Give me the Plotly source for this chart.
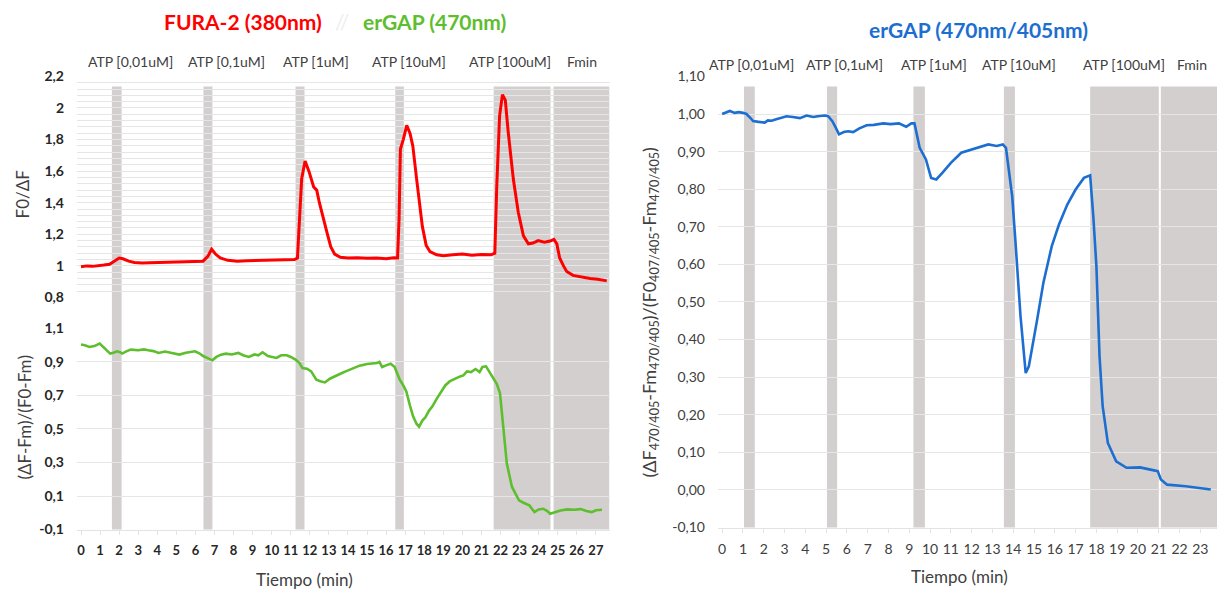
import plotly.graph_objects as go

# ---------------- data ----------------
red_t = [0.0, 0.3, 0.6, 0.9, 1.2, 1.5, 1.75, 2.0, 2.2, 2.5, 2.8, 3.2, 3.6, 4.0, 4.5, 5.0, 5.5, 6.0, 6.4,
         6.65, 6.85, 7.05, 7.3, 7.7, 8.2, 8.7, 9.2, 9.7, 10.2, 10.7, 11.2, 11.35, 11.45, 11.57, 11.75, 11.95,
         12.2, 12.36, 12.5, 12.7, 12.9, 13.1, 13.3, 13.6, 14.0, 14.5, 15.0, 15.5, 16.0, 16.4, 16.6, 16.68,
         16.75, 16.9, 17.08, 17.25, 17.4, 17.6, 17.9, 18.1, 18.3, 18.65, 19.0, 19.5, 20.0, 20.5, 21.0, 21.5,
         21.7, 21.8, 21.95, 22.1, 22.25, 22.4, 22.67, 22.93, 23.2, 23.46, 23.7, 23.97, 24.3, 24.6, 24.8,
         24.95, 25.1, 25.3, 25.47, 25.8, 26.2, 26.7, 27.1, 27.57]
red_v = [0.995, 1.0, 0.997, 1.003, 1.005, 1.01, 1.03, 1.05, 1.045, 1.03, 1.022, 1.018, 1.02, 1.022, 1.025,
         1.023, 1.026, 1.03, 1.03, 1.06, 1.105, 1.075, 1.05, 1.035, 1.03, 1.033, 1.035, 1.033, 1.037, 1.04,
         1.04, 1.05, 1.3, 1.55, 1.664, 1.6, 1.50, 1.48, 1.40, 1.30, 1.21, 1.12, 1.075, 1.055, 1.05, 1.052,
         1.048, 1.05, 1.046, 1.052, 1.05, 1.3, 1.74, 1.80, 1.89, 1.84, 1.76, 1.55, 1.25, 1.13, 1.09, 1.07,
         1.065, 1.07, 1.075, 1.068, 1.072, 1.07, 1.08, 1.5, 1.95, 2.085, 2.05, 1.85, 1.55, 1.34, 1.19, 1.14,
         1.145, 1.16, 1.15, 1.157, 1.168, 1.14, 1.05, 1.0, 0.965, 0.94, 0.93, 0.92, 0.915, 0.905]

green_t = [0.0, 0.2, 0.44, 0.7, 0.98, 1.2, 1.53, 1.7, 1.89, 2.05, 2.16, 2.4, 2.62, 3.0, 3.3, 3.53, 3.8,
           4.07, 4.4, 4.7, 5.16, 5.5, 5.75, 5.98, 6.2, 6.43, 6.7, 6.89, 7.1, 7.34, 7.6, 7.9, 8.25, 8.5, 8.8,
           9.1, 9.3, 9.52, 9.8, 10.05, 10.25, 10.5, 10.79, 11.0, 11.25, 11.45, 11.61, 11.85, 12.07, 12.2,
           12.34, 12.55, 12.79, 13.05, 13.34, 13.6, 13.88, 14.2, 14.61, 15.0, 15.3, 15.52, 15.65, 15.79,
           16.0, 16.24, 16.45, 16.7, 16.9, 17.06, 17.25, 17.42, 17.6, 17.73, 17.9, 18.06, 18.25, 18.42,
           18.65, 18.88, 19.1, 19.33, 19.6, 19.88, 20.05, 20.24, 20.45, 20.69, 20.9, 21.05, 21.24, 21.4,
           21.6, 21.8, 21.97, 22.15, 22.33, 22.6, 22.97, 23.2, 23.51, 23.78, 24.0, 24.24, 24.45, 24.6,
           24.85, 25.14, 25.5, 25.87, 26.2, 26.5, 26.78, 27.0, 27.32]
green_v = [1.004, 1.0, 0.99, 0.995, 1.01, 0.985, 0.95, 0.955, 0.964, 0.958, 0.95, 0.965, 0.974, 0.97,
           0.975, 0.97, 0.965, 0.954, 0.962, 0.955, 0.944, 0.955, 0.96, 0.964, 0.952, 0.934, 0.92, 0.91,
           0.93, 0.944, 0.95, 0.945, 0.954, 0.94, 0.93, 0.945, 0.94, 0.958, 0.935, 0.928, 0.924, 0.94, 0.94,
           0.93, 0.914, 0.895, 0.864, 0.86, 0.844, 0.82, 0.794, 0.785, 0.778, 0.8, 0.818, 0.83, 0.844, 0.86,
           0.878, 0.888, 0.89, 0.894, 0.9, 0.87, 0.88, 0.89, 0.87, 0.798, 0.76, 0.724, 0.64, 0.574, 0.53,
           0.514, 0.55, 0.57, 0.61, 0.634, 0.68, 0.724, 0.76, 0.784, 0.8, 0.814, 0.82, 0.844, 0.84, 0.858,
           0.84, 0.87, 0.874, 0.845, 0.814, 0.77, 0.714, 0.494, 0.294, 0.154, 0.074, 0.06, 0.044, 0.004,
           0.02, 0.024, 0.01, -0.006, 0.005, 0.014, 0.02, 0.018, 0.022, 0.01, 0.004, 0.015, 0.018]

blue_t = [0.0, 0.2, 0.37, 0.6, 0.8, 1.0, 1.17, 1.35, 1.49, 1.75, 2.05, 2.2, 2.38, 2.6, 2.8, 3.1, 3.4,
          3.74, 4.06, 4.38, 4.6, 4.94, 5.1, 5.3, 5.45, 5.62, 5.85, 6.06, 6.3, 6.6, 6.95, 7.3, 7.75, 8.1,
          8.5, 8.85, 9.1, 9.25, 9.5, 9.8, 10.05, 10.3, 10.6, 11.0, 11.5, 12.0, 12.4, 12.8, 13.2, 13.5,
          13.65, 13.95, 14.1, 14.35, 14.6, 14.75, 15.15, 15.45, 15.85, 16.2, 16.6, 17.0, 17.4, 17.7, 17.85,
          18.0, 18.15, 18.3, 18.55, 18.95, 19.45, 20.1, 20.6, 20.95, 21.1, 21.4, 22.3, 22.9, 23.5]
blue_v = [1.000, 1.004, 1.008, 1.003, 1.005, 1.003, 1.0, 0.99, 0.981, 0.979, 0.977, 0.983, 0.982, 0.986,
          0.990, 0.994, 0.992, 0.989, 0.996, 0.992, 0.994, 0.996, 0.994, 0.981, 0.965, 0.946, 0.952, 0.954,
          0.952, 0.962, 0.970, 0.971, 0.975, 0.973, 0.975, 0.966, 0.975, 0.975, 0.910, 0.879, 0.830, 0.826,
          0.844, 0.870, 0.897, 0.905, 0.912, 0.919, 0.915, 0.919, 0.910, 0.781, 0.666, 0.462, 0.311, 0.329,
          0.453, 0.551, 0.648, 0.706, 0.759, 0.799, 0.830, 0.837, 0.728, 0.595, 0.356, 0.223, 0.125, 0.076,
          0.059, 0.060, 0.054, 0.050, 0.028, 0.014, 0.010, 0.006, 0.001]

stim_labels = ["ATP [0,01uM]", "ATP [0,1uM]", "ATP [1uM]", "ATP [10uM]", "ATP [100uM]", "Fmin"]
left_label_t = [2.57, 7.63, 12.34, 17.19, 22.47, 26.27]
right_label_t = [1.43, 5.9, 10.18, 14.29, 19.35, 22.58]

left_bars = [(1.62, 2.13), (6.42, 6.89), (11.25, 11.72), (16.48, 16.93), (21.64, 24.62), (24.78, 27.7)]
right_bars = [(1.05, 1.57), (5.04, 5.53), (9.2, 9.75), (13.55, 14.08), (17.7, 21.0), (21.1, 23.8)]

top_ticks = [0.8, 1.0, 1.2, 1.4, 1.6, 1.8, 2.0, 2.2]
top_ticktext = ["0,8", "1", "1,2", "1,4", "1,6", "1,8", "2", "2,2"]
bot_ticks = [-0.1, 0.1, 0.3, 0.5, 0.7, 0.9, 1.1]
bot_ticktext = ["-0,1", "0,1", "0,3", "0,5", "0,7", "0,9", "1,1"]
right_ticks = [-0.1, 0.0, 0.1, 0.2, 0.3, 0.4, 0.5, 0.6, 0.7, 0.8, 0.9, 1.0, 1.1]
right_ticktext = ["-0,10", "0,00", "0,10", "0,20", "0,30", "0,40", "0,50", "0,60", "0,70", "0,80",
                  "0,90", "1,00", "1,10"]
left_x_ticks = list(range(0, 28))
right_x_ticks = list(range(0, 24))

# ---------------- layout helpers ----------------
W, H = 1217, 591
# the page capture squeezes the figure vertically (about 0.971, offset ~9.6 px);
# positions below are given in target picture pixels and converted here.
SY, OY = 0.971, 9.6
def px(x):
    return x / W
def py(y):
    return 1 - ((y - OY) / SY) / H

FONT = "Lato"
RED = "#FF0000"
GREEN = "#5DBE2E"
BLUE = "#1C6ED0"
BAR = "#D3CFCF"
GRID = "#E6E6E6"
TXT = "#404040"

fig = go.Figure()
fig.add_trace(go.Scatter(x=red_t, y=red_v, xaxis="x", yaxis="y2", mode="lines",
                         line=dict(color=RED, width=3), showlegend=False, hoverinfo="skip"))
fig.add_trace(go.Scatter(x=green_t, y=green_v, xaxis="x", yaxis="y", mode="lines",
                         line=dict(color=GREEN, width=2.6), showlegend=False, hoverinfo="skip"))
fig.add_trace(go.Scatter(x=blue_t, y=blue_v, xaxis="x2", yaxis="y3", mode="lines",
                         line=dict(color=BLUE, width=2.6), showlegend=False, hoverinfo="skip"))

shapes = []
for a, b in left_bars:
    shapes.append(dict(type="rect", xref="x", yref="paper", x0=a, x1=b, y0=py(530), y1=py(87),
                       fillcolor=BAR, line=dict(width=0), layer="below"))
for a, b in right_bars:
    shapes.append(dict(type="rect", xref="x2", yref="paper", x0=a, x1=b, y0=py(528), y1=py(87),
                       fillcolor=BAR, line=dict(width=0), layer="below"))

ann = []
for lab, t in zip(stim_labels, left_label_t):
    ann.append(dict(x=t, xref="x", y=py(62), yref="paper", text=lab, showarrow=False,
                    font=dict(family=FONT, size=14, color=TXT), xanchor="center", yanchor="middle"))
for lab, t in zip(stim_labels, right_label_t):
    ann.append(dict(x=t, xref="x2", y=py(65), yref="paper", text=lab, showarrow=False,
                    font=dict(family=FONT, size=14, color=TXT), xanchor="center", yanchor="middle"))

ann += [
    dict(x=px(243), y=py(22), xref="paper", yref="paper", text="<b>FURA-2 (380nm)</b>", showarrow=False,
         font=dict(family=FONT, size=21, color=RED), xanchor="center", yanchor="middle"),
    dict(x=px(342), y=py(22), xref="paper", yref="paper", text="//", showarrow=False,
         font=dict(family=FONT, size=21, color="#EEEEEE"), xanchor="center", yanchor="middle"),
    dict(x=px(434), y=py(22), xref="paper", yref="paper", text="<b>erGAP (470nm)</b>", showarrow=False,
         font=dict(family=FONT, size=21, color=GREEN), xanchor="center", yanchor="middle"),
    dict(x=px(978), y=py(30), xref="paper", yref="paper", text="<b>erGAP (470nm/405nm)</b>", showarrow=False,
         font=dict(family=FONT, size=21, color=BLUE), xanchor="center", yanchor="middle"),
    dict(x=px(22), y=py(195), xref="paper", yref="paper", text="F0/ΔF", showarrow=False, textangle=-90,
         font=dict(family=FONT, size=17, color=TXT), xanchor="center", yanchor="middle"),
    dict(x=px(24), y=py(418), xref="paper", yref="paper", text="(ΔF-Fm)/(F0-Fm)", showarrow=False,
         textangle=-90, font=dict(family=FONT, size=17, color=TXT), xanchor="center", yanchor="middle"),
    dict(x=px(650), y=py(313), xref="paper", yref="paper",
         text="(ΔF<sub>470/405</sub>-Fm<sub>470/405</sub>)/(F0<sub>407/405</sub>-Fm<sub>470/405</sub>)",
         showarrow=False, textangle=-90, font=dict(family=FONT, size=18, color=TXT),
         xanchor="center", yanchor="middle"),
    dict(x=px(304), y=py(580), xref="paper", yref="paper", text="Tiempo (min)", showarrow=False,
         font=dict(family=FONT, size=17, color=TXT), xanchor="center", yanchor="middle"),
    dict(x=px(959), y=py(577), xref="paper", yref="paper", text="Tiempo (min)", showarrow=False,
         font=dict(family=FONT, size=17, color=TXT), xanchor="center", yanchor="middle"),
]

fig.update_layout(
    width=W, height=H, margin=dict(l=0, r=0, t=0, b=0),
    paper_bgcolor="white", plot_bgcolor="white",
    separators=",.",
    showlegend=False,
    shapes=shapes, annotations=ann,
    xaxis=dict(domain=[px(77), px(610)], anchor="y", range=[-0.21, 27.74],
               tickvals=left_x_ticks, ticktext=[str(v) for v in left_x_ticks],
               tickfont=dict(family=FONT, size=13, color="#262626", weight="bold"),
               showgrid=False, zeroline=False, showline=True, linecolor="#E3E3E3",
               ticks="outside", ticklen=4, tickcolor="#E3E3E3", ticklabelstandoff=5),
    yaxis=dict(domain=[py(530), py(329)], anchor="x", range=[-0.1, 1.1],
               tickvals=bot_ticks, ticktext=bot_ticktext,
               tickfont=dict(family=FONT, size=14, color="#262626", weight="bold"),
               showgrid=True, gridcolor=GRID, zeroline=False, showline=False, ticks="",
               ticklabelstandoff=12),
    yaxis2=dict(domain=[py(298), py(77)], anchor="x", range=[0.8, 2.2],
                tickvals=top_ticks, ticktext=top_ticktext,
                tickfont=dict(family=FONT, size=14, color="#262626", weight="bold"),
                showgrid=True, gridcolor=GRID, zeroline=False, showline=False, ticks="",
                minor=dict(tick0=0.8, dtick=0.04, showgrid=True, gridcolor=GRID),
                ticklabelstandoff=12),
    xaxis2=dict(domain=[px(718), 1.0], anchor="y3", range=[-0.2, 23.8],
                tickvals=right_x_ticks, ticktext=[str(v) for v in right_x_ticks],
                tickfont=dict(family=FONT, size=14, color="#404040"),
                showgrid=False, zeroline=False, showline=True, linecolor="#E3E3E3",
                ticks="outside", ticklen=4, tickcolor="#E3E3E3", ticklabelstandoff=5),
    yaxis3=dict(domain=[py(528), py(77)], anchor="x2", range=[-0.1, 1.1],
                tickvals=right_ticks, ticktext=right_ticktext,
                tickfont=dict(family=FONT, size=14, color="#404040"),
                showgrid=True, gridcolor=GRID, zeroline=False, showline=False, ticks="",
                ticklabelstandoff=12),
)

fig.write_html(
    "out.html",
    config={"displayModeBar": False, "responsive": False},
    post_script=(
        "document.documentElement.style.margin='0';document.documentElement.style.padding='0';"
        "document.documentElement.style.overflow='hidden';"
        "document.body.style.margin='0';document.body.style.padding='0';"
        "document.body.style.overflow='hidden';"
        "var d=document.getElementById('{plot_id}');"
        "d.style.position='fixed';d.style.left='0px';d.style.top='0px';"
    ),
)
